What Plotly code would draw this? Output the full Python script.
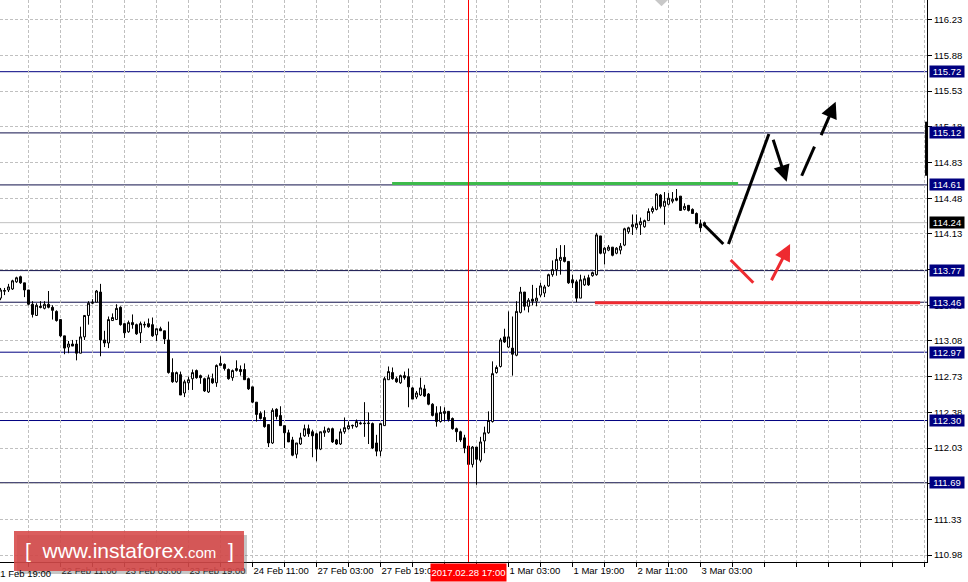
import plotly.graph_objects as go

# H1 candles, 21 Feb 20:00 .. 3 Mar 04:00 (bar index 0..176)
opens = [113.50, 113.568, 113.58, 113.59, 113.66, 113.71, 113.65, 113.58, 113.44, 113.33,
         113.42, 113.40, 113.44, 113.41, 113.37, 113.29, 113.13, 113.02, 113.05, 113.05,
         112.96, 113.12, 113.33, 113.45, 113.46, 113.56, 113.09, 113.06, 113.28, 113.29,
         113.41, 113.25, 113.17, 113.26, 113.24, 113.16, 113.236, 113.25, 113.24, 113.14,
         113.20, 113.18, 113.09, 112.77, 112.68, 112.75, 112.57, 112.67, 112.71, 112.79,
         112.74, 112.71, 112.58, 112.71, 112.67, 112.84, 112.85, 112.80, 112.72, 112.79,
         112.80, 112.80, 112.71, 112.63, 112.48, 112.37, 112.33, 112.26, 112.08, 112.41,
         112.35, 112.25, 112.18, 112.11, 111.97, 112.07, 112.15, 112.22, 112.19, 112.17,
         112.02, 112.18, 112.19, 112.22, 112.11, 112.07, 112.19, 112.22, 112.247, 112.24,
         112.268, 112.274, 112.270, 112.27, 112.08, 112.00, 112.25, 112.70, 112.77, 112.71,
         112.67, 112.74, 112.73, 112.62, 112.53, 112.55, 112.61, 112.56, 112.46, 112.37,
         112.29, 112.37, 112.39, 112.32, 112.22, 112.19, 112.13, 112.05, 111.87, 112.04,
         111.91, 112.10, 112.18, 112.29, 112.77, 112.83, 113.12, 113.02, 113.01, 112.94,
         113.36, 113.56, 113.42, 113.49, 113.47, 113.53, 113.55, 113.62, 113.73, 113.78,
         113.87, 113.90, 113.86, 113.68, 113.66, 113.50, 113.63, 113.70, 113.72, 113.73,
         114.11, 113.94, 113.97, 114.00, 113.94, 113.97, 114.02, 114.15, 114.20, 114.19,
         114.22, 114.20, 114.26, 114.35, 114.37, 114.51, 114.40, 114.42, 114.45, 114.48,
         114.50, 114.37, 114.41, 114.37, 114.33, 114.23, 114.22]
highs = [113.60, 113.60, 113.64, 113.68, 113.71, 113.72, 113.65, 113.58, 113.47, 113.45,
         113.47, 113.47, 113.57, 113.43, 113.38, 113.29, 113.13, 113.08, 113.09, 113.09,
         113.22, 113.33, 113.47, 113.49, 113.58, 113.64, 113.18, 113.32, 113.35, 113.44,
         113.42, 113.25, 113.28, 113.34, 113.25, 113.27, 113.27, 113.30, 113.31, 113.20,
         113.22, 113.18, 113.27, 112.91, 112.78, 112.78, 112.70, 112.73, 112.80, 112.80,
         112.75, 112.72, 112.75, 112.76, 112.85, 112.93, 112.86, 112.81, 112.80, 112.89,
         112.84, 112.86, 112.72, 112.63, 112.48, 112.39, 112.40, 112.26, 112.42, 112.42,
         112.44, 112.25, 112.21, 112.14, 112.08, 112.18, 112.26, 112.26, 112.21, 112.18,
         112.19, 112.24, 112.23, 112.23, 112.12, 112.22, 112.33, 112.29, 112.26, 112.31,
         112.29, 112.48, 112.38, 112.28, 112.16, 112.27, 112.73, 112.83, 112.82, 112.73,
         112.75, 112.78, 112.81, 112.63, 112.59, 112.72, 112.65, 112.57, 112.47, 112.44,
         112.44, 112.43, 112.39, 112.33, 112.23, 112.20, 112.16, 112.05, 112.05, 112.04,
         112.14, 112.24, 112.39, 112.88, 112.84, 113.11, 113.20, 113.37, 113.32, 113.47,
         113.61, 113.56, 113.50, 113.63, 113.60, 113.65, 113.63, 113.74, 113.87, 113.99,
         114.02, 114.02, 113.86, 113.73, 113.68, 113.73, 113.72, 113.73, 113.76, 114.14,
         114.11, 114.00, 114.02, 114.00, 114.00, 114.04, 114.19, 114.20, 114.32, 114.32,
         114.29, 114.27, 114.38, 114.40, 114.53, 114.52, 114.54, 114.53, 114.54, 114.57,
         114.50, 114.43, 114.41, 114.38, 114.34, 114.27, 114.25]
lows = [113.48, 113.53, 113.56, 113.58, 113.65, 113.64, 113.51, 113.43, 113.31, 113.325,
        113.40, 113.39, 113.40, 113.29, 113.27, 113.12, 112.95, 112.96, 113.03, 112.89,
        112.96, 113.09, 113.24, 113.44, 113.46, 112.93, 113.02, 113.01, 113.28, 113.29,
        113.23, 113.11, 113.16, 113.20, 113.14, 113.06, 113.21, 113.21, 113.12, 113.08,
        113.18, 113.05, 112.76, 112.67, 112.67, 112.55, 112.53, 112.60, 112.60, 112.71,
        112.66, 112.58, 112.57, 112.66, 112.63, 112.84, 112.79, 112.70, 112.69, 112.78,
        112.74, 112.70, 112.60, 112.47, 112.29, 112.31, 112.23, 112.04, 112.07, 112.31,
        112.25, 112.03, 112.09, 111.95, 111.93, 112.06, 112.14, 112.14, 111.94, 111.90,
        112.01, 112.14, 112.18, 112.08, 112.06, 112.06, 112.17, 112.21, 112.22, 112.23,
        112.26, 112.14, 112.07, 112.02, 111.95, 111.95, 112.25, 112.70, 112.70, 112.67,
        112.66, 112.70, 112.43, 112.51, 112.51, 112.54, 112.53, 112.45, 112.34, 112.24,
        112.28, 112.29, 112.29, 112.21, 112.09, 112.09, 111.98, 111.86, 111.84, 111.67,
        111.89, 111.98, 112.17, 112.28, 112.76, 112.82, 113.06, 113.01, 112.74, 112.93,
        113.35, 113.38, 113.36, 113.43, 113.42, 113.51, 113.51, 113.61, 113.71, 113.72,
        113.73, 113.85, 113.64, 113.60, 113.46, 113.50, 113.62, 113.62, 113.71, 113.72,
        113.93, 113.83, 113.96, 113.91, 113.93, 113.93, 114.01, 114.13, 114.12, 114.17,
        114.12, 114.19, 114.26, 114.33, 114.36, 114.38, 114.22, 114.41, 114.43, 114.45,
        114.36, 114.36, 114.35, 114.33, 114.23, 114.15, 114.20]
closes = [113.58, 113.574, 113.61, 113.67, 113.70, 113.65, 113.58, 113.44, 113.34, 113.43,
          113.41, 113.44, 113.41, 113.38, 113.28, 113.13, 113.01, 113.05, 113.03, 112.96,
          113.12, 113.33, 113.45, 113.46, 113.57, 113.09, 113.06, 113.29, 113.31, 113.40,
          113.24, 113.16, 113.26, 113.24, 113.15, 113.25, 113.242, 113.22, 113.13, 113.20,
          113.18, 113.10, 112.77, 112.68, 112.77, 112.55, 112.68, 112.70, 112.77, 112.72,
          112.72, 112.59, 112.72, 112.67, 112.84, 112.86, 112.81, 112.71, 112.79, 112.81,
          112.78, 112.70, 112.61, 112.48, 112.36, 112.32, 112.24, 112.08, 112.40, 112.34,
          112.25, 112.18, 112.09, 111.96, 112.08, 112.13, 112.22, 112.17, 112.15, 112.02,
          112.19, 112.20, 112.22, 112.09, 112.07, 112.19, 112.23, 112.25, 112.252, 112.29,
          112.274, 112.270, 112.274, 112.03, 112.00, 112.27, 112.71, 112.78, 112.71, 112.68,
          112.74, 112.72, 112.63, 112.51, 112.57, 112.62, 112.54, 112.46, 112.35, 112.29,
          112.38, 112.39, 112.31, 112.22, 112.19, 112.11, 112.03, 111.87, 112.04, 111.92,
          112.09, 112.18, 112.30, 112.76, 112.82, 113.09, 113.07, 113.12, 112.95, 113.37,
          113.56, 113.42, 113.48, 113.47, 113.50, 113.62, 113.61, 113.73, 113.78, 113.88,
          113.90, 113.86, 113.65, 113.65, 113.50, 113.68, 113.69, 113.63, 113.75, 114.12,
          113.94, 113.99, 114.00, 113.92, 113.99, 114.01, 114.18, 114.19, 114.22, 114.23,
          114.25, 114.26, 114.35, 114.38, 114.52, 114.40, 114.45, 114.48, 114.47, 114.46,
          114.36, 114.40, 114.36, 114.33, 114.23, 114.19, 114.24]
bars = list(range(len(opens)))

# time axis: grid every 8 bars, a label every 16 bars
grid_ticks = list(range(7, 232, 8))
time_labels = {15: '22 Feb 11:00', 31: '23 Feb 03:00', 47: '23 Feb 19:00', 63: '24 Feb 11:00',
               79: '27 Feb 03:00', 95: '27 Feb 19:00', 111: '28 Feb 11:00', 127: '1 Mar 03:00',
               143: '1 Mar 19:00', 159: '2 Mar 11:00', 175: '3 Mar 03:00'}
first_label = '21 Feb 19:00'
cursor_bar = 117
cursor_label = '2017.02.28 17:00'

price_ticks = [116.23, 115.88, 115.53, 115.18, 114.83, 114.48, 114.13, 113.78,
               113.43, 113.08, 112.73, 112.38, 112.03, 111.68, 111.33, 110.98]
levels_blue = [115.72, 112.97, 112.30]
levels_dark = [115.12, 114.61, 113.77, 113.46, 111.69]
last_price = 114.24

# forecast drawings (bar index, price)
green_x = [97.9, 184.4]
green_y = [114.625, 114.625]
red_x = [148.6, 229.9]
red_y = [113.455, 113.455]
path1_x, path1_y = [175.7, 180.7], [114.227, 114.031]
path2_x, path2_y = [182.0, 192.1], [114.031, 115.109]
down_arrow = (193.05, 115.067, 196.55, 114.642)
dash_x, dash_y = [200.3, 203.5], [114.700, 114.985]
up_arrow = (205.0, 115.083, 208.8, 115.426)
red_line_x, red_line_y = [182.55, 188.2], [113.874, 113.651]
red_arrow = (192.55, 113.661, 197.4, 114.031)

FONT = 'Liberation Sans'
NAVY = '#000080'
RED = '#ee2a30'
GREEN = '#3dbb4b'

fig = go.Figure()

fig.add_trace(go.Candlestick(
    x=bars, open=opens, high=highs, low=lows, close=closes,
    increasing=dict(line=dict(color='black', width=1), fillcolor='white'),
    decreasing=dict(line=dict(color='black', width=1), fillcolor='black'),
    whiskerwidth=0, hoverinfo='skip'
))

for xs, ys, col in [(green_x, green_y, GREEN), (red_x, red_y, RED),
                    (red_line_x, red_line_y, RED),
                    (path1_x, path1_y, 'black'), (path2_x, path2_y, 'black')]:
    fig.add_trace(go.Scatter(x=xs, y=ys, mode='lines', line=dict(color=col, width=3),
                             hoverinfo='skip'))
fig.add_trace(go.Scatter(x=dash_x, y=dash_y, mode='lines', line=dict(color='black', width=3),
                         hoverinfo='skip'))

shapes = []
for lv in levels_blue:
    shapes.append(dict(type='line', xref='paper', x0=0, x1=1, y0=lv, y1=lv, layer='between',
                       line=dict(color=NAVY, width=1)))
for lv in levels_dark:
    shapes.append(dict(type='line', xref='paper', x0=0, x1=1, y0=lv, y1=lv, layer='between',
                       line=dict(color='#10104a', width=1)))
shapes.append(dict(type='line', xref='paper', x0=0, x1=1, y0=last_price, y1=last_price,
                   line=dict(color='#c0c0c0', width=1), layer='between'))
shapes.append(dict(type='line', xref='x', yref='paper', x0=cursor_bar, x1=cursor_bar, y0=0, y1=1,
                   line=dict(color='red', width=1)))
# scale marker on the price axis
shapes.append(dict(type='line', xref='paper', x0=0.9995, x1=0.9995, y0=115.23, y1=114.70,
                   line=dict(color='black', width=3)))
# chart-shift triangle at the top
shapes.append(dict(type='path', xref='paper', yref='paper',
                   path='M 0.7066 1 L 0.7206 1 L 0.7136 0.989 Z',
                   fillcolor='#c8c8c8', line=dict(width=0)))
# logo box (shadow + box)
shapes.append(dict(type='rect', xref='paper', yref='paper', x0=0.0183, x1=0.2664,
                   y0=-0.0214, y1=0.0480, fillcolor='rgba(90,90,90,0.35)', line=dict(width=0)))
shapes.append(dict(type='rect', xref='paper', yref='paper', x0=0.0151, x1=0.2632,
                   y0=-0.0160, y1=0.0552, fillcolor='rgba(214,72,72,0.88)', line=dict(width=0)))

annotations = []
for lv in levels_blue + levels_dark:
    annotations.append(dict(xref='paper', x=1, xanchor='left', xshift=2, y=lv, yref='y',
                            text=f'{lv:.2f}', showarrow=False, bgcolor=NAVY, width=34, height=11,
                            borderpad=0, font=dict(family=FONT, size=9.5, color='white')))
annotations.append(dict(xref='paper', x=1, xanchor='left', xshift=2, y=last_price, yref='y',
                        text=f'{last_price:.2f}', showarrow=False, bgcolor='black', width=34,
                        height=11, borderpad=0, font=dict(family=FONT, size=9.5, color='white')))
annotations.append(dict(xref='x', x=cursor_bar, yref='paper', y=0, yanchor='top', yshift=-1,
                        text=cursor_label, showarrow=False, bgcolor='red', width=75, height=17,
                        borderpad=0, font=dict(family=FONT, size=9.5, color='white')))
annotations.append(dict(xref='paper', x=-0.0075, xanchor='left', yref='paper', y=0,
                        yanchor='top', yshift=-4, text=first_label, showarrow=False,
                        font=dict(family=FONT, size=9.5, color='black')))
for ax_, ay_, x_, y_, col in [down_arrow + ('black',), up_arrow + ('black',),
                              red_arrow + (RED,)]:
    annotations.append(dict(x=x_, y=y_, ax=ax_, ay=ay_, xref='x', yref='y', axref='x', ayref='y',
                            text='', showarrow=True, arrowhead=2, arrowsize=1.1, arrowwidth=3,
                            arrowcolor=col, standoff=0, startstandoff=0))
annotations.append(dict(xref='paper', yref='paper', x=0.1392, y=0.0196, xanchor='center',
                        yanchor='middle', showarrow=False,
                        text='[  www.instaforex<span style="font-size:15px">.com</span>  ]',
                        font=dict(family=FONT, size=21, color='white')))

fig.update_layout(
    width=968, height=582,
    margin=dict(l=0, r=41, t=0, b=20, autoexpand=False),
    paper_bgcolor='white', plot_bgcolor='white',
    showlegend=False, hovermode=False,
    shapes=shapes, annotations=annotations,
    xaxis=dict(range=[-0.125, 231.625], rangeslider=dict(visible=False), automargin=False,
               tickvals=grid_ticks, ticktext=[time_labels.get(t, '') for t in grid_ticks],
               ticklabelposition='outside right', tickangle=0, ticks='outside', ticklen=4,
               tickcolor='black', showline=True, linecolor='black', linewidth=1,
               showgrid=True, gridcolor='#c0c0c0', griddash='3px,2px', gridwidth=1,
               zeroline=False, tickfont=dict(family=FONT, size=9.5, color='black')),
    yaxis=dict(range=[110.913, 116.423], side='right', tickvals=price_ticks, automargin=False,
               ticktext=[f'{p:.2f}' for p in price_ticks],
               ticks='outside', ticklen=4, tickcolor='black',
               showline=True, linecolor='black', linewidth=1,
               showgrid=True, gridcolor='#c0c0c0', griddash='3px,2px', gridwidth=1,
               zeroline=False, tickfont=dict(family=FONT, size=9.5, color='black')),
)

# drop the browser's default page margin so the chart sits at the window corner
fig.write_html("out.html", post_script="document.body.style.margin='0';",
               config={'displayModeBar': False})
